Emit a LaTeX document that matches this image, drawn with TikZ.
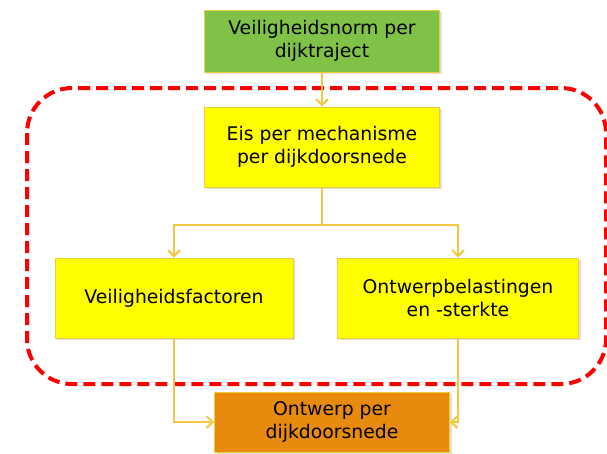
\documentclass[tikz,border=0pt]{standalone}
\usepackage{fontspec}
\setmainfont{DejaVu Sans}
\usetikzlibrary{arrows.meta,shadows}
\definecolor{normgreen}{RGB}{128,194,72}
\definecolor{eisyellow}{RGB}{255,255,0}
\definecolor{ontwerporange}{RGB}{232,138,14}
\definecolor{boxedge}{RGB}{236,206,60}
\definecolor{flowgold}{RGB}{245,200,66}
\definecolor{zonered}{RGB}{255,0,0}
\begin{document}
\begin{tikzpicture}[x=1pt, y=-1pt,
    box/.style = {draw=boxedge, line width=1pt, align=center, text=black,
                  font=\fontsize{18.8}{23}\selectfont,
                  drop shadow={opacity=0.25, shadow xshift=2pt, shadow yshift=-2pt}},
    flow/.style = {draw=flowgold, line width=2pt, -{Straight Barb[length=6pt, width=12pt]}}]
    \useasboundingbox (0,0) rectangle (607,453);

    % zone per dijkdoorsnede
    \draw[zonered, line width=4pt, dash pattern=on 12pt off 6pt, rounded corners=45]
        (27,88) rectangle (606,384);

    \node[box, fill=normgreen, minimum width=235, minimum height=62] (1) at (322,41) {Veiligheidsnorm per\\dijktraject};
    \node[box, fill=eisyellow, minimum width=235, minimum height=80] (2) at (322,147) {Eis per mechanisme\\per dijkdoorsnede};
    \node[box, fill=eisyellow, minimum width=238, minimum height=80] (3) at (174,298) {Veiligheidsfactoren};
    \node[box, fill=eisyellow, minimum width=241, minimum height=80] (4) at (458,298) {Ontwerpbelastingen\\en -sterkte};
    \node[box, fill=ontwerporange, minimum width=235, minimum height=60] (5) at (332,422) {Ontwerp per\\dijkdoorsnede};

    \coordinate (split) at (322,225);

    \draw[flow] (1) -- (2);
    \draw[draw=flowgold, line width=2pt] (2) -- (split);
    \draw[flow] (split) -| (3);
    \draw[flow] (split) -| (4);
    \draw[flow] (3) |- (5);
    \draw[flow] (4) |- (5);
\end{tikzpicture}
\end{document}
